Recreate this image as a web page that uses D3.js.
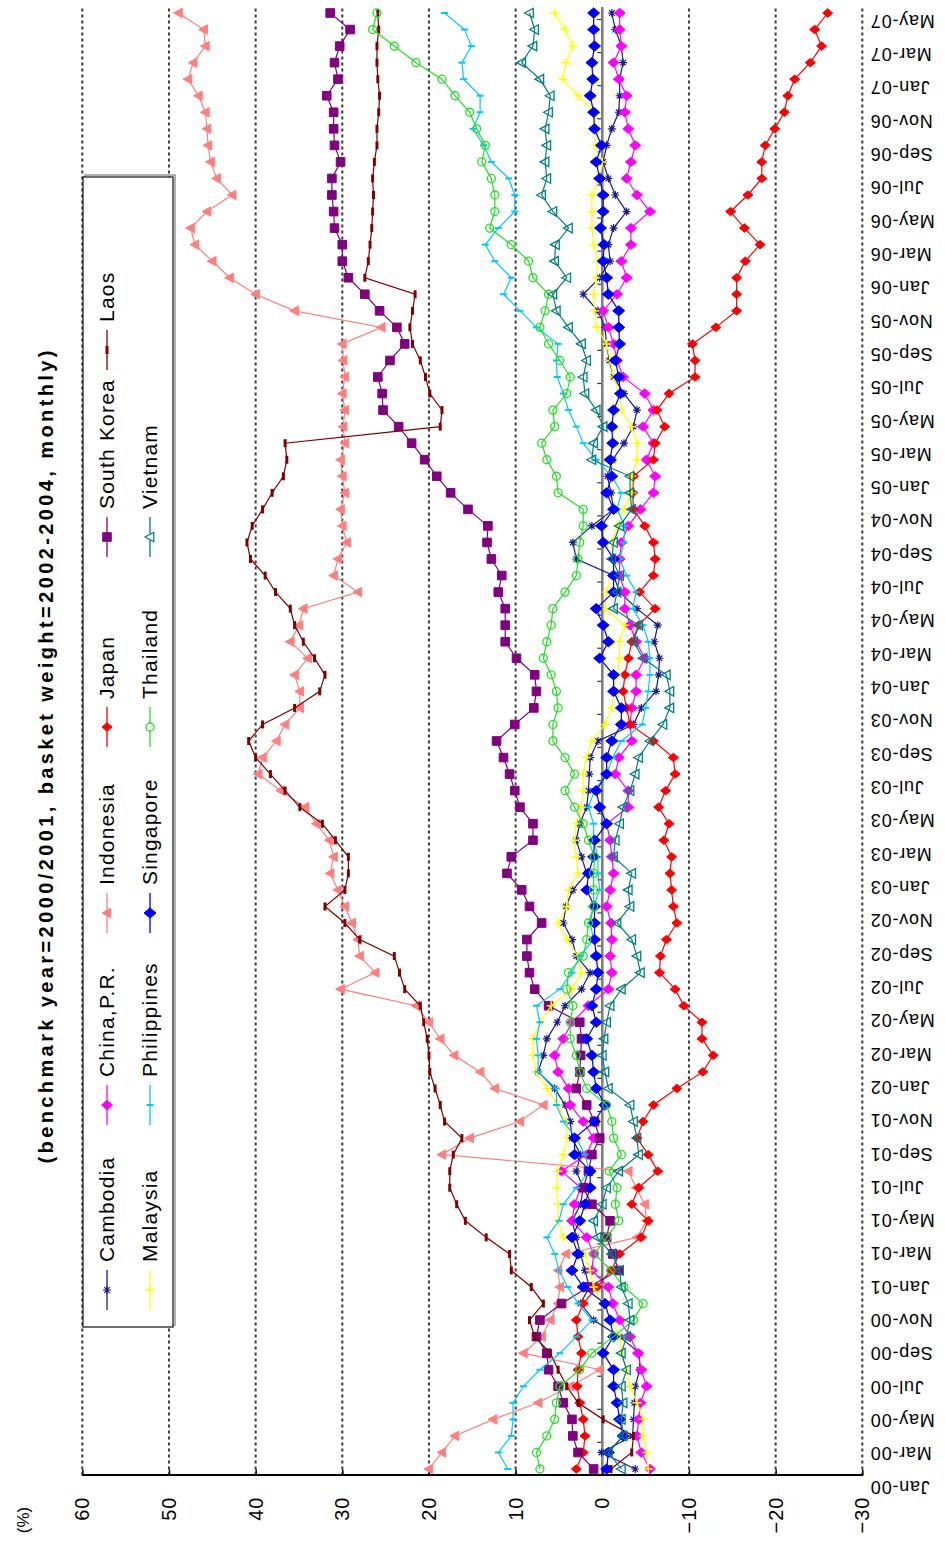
<!DOCTYPE html>
<html>
<head>
<meta charset="utf-8">
<script src="https://cdn.jsdelivr.net/npm/d3@7"></script>
<style>
  body { margin: 0; background: #fff; }
  svg { display: block; }
  text { font-family: "Liberation Sans", Arial, sans-serif; fill: #000; }
</style>
</head>
<body>
<svg id="chart" width="945" height="1546"></svg>
<script>
// Month tick labels (every second month)
const tickLabels = [
  "Jan-00","Mar-00","May-00","Jul-00","Sep-00","Nov-00",
  "Jan-01","Mar-01","May-01","Jul-01","Sep-01","Nov-01",
  "Jan-02","Mar-02","May-02","Jul-02","Sep-02","Nov-02",
  "Jan-03","Mar-03","May-03","Jul-03","Sep-03","Nov-03",
  "Jan-04","Mar-04","May-04","Jul-04","Sep-04","Nov-04",
  "Jan-05","Mar-05","May-05","Jul-05","Sep-05","Nov-05",
  "Jan-06","Mar-06","May-06","Jul-06","Sep-06","Nov-06",
  "Jan-07","Mar-07","May-07"
];
const valueTicks = [60, 50, 40, 30, 20, 10, 0, -10, -20, -30];

// Monthly deviation (%), Jan-00 .. May-07
const cambodia = [
  -3.8, 0.1, -3.5, -3.6, -3.7, -3.8, -4.3, -4.3, -2.0, 1.0,
  2.5, 1.5, 2.0, 2.5, 3.0, 3.5, 2.5, 2.2, 3.0, 2.5,
  3.5, 3.7, 4.3, 5.5, 7.4, 6.8, 6.4, 5.2, 4.3, 2.4,
  1.4, 3.0, 3.5, 4.5, 4.2, 3.4, 1.8, 2.4, 3.0, 2.6,
  1.8, 1.6, 1.5, 1.4, 0.5, -3.6, -4.5, -6.2, -6.5, -6.6,
  -6.0, -6.4, -4.0, -2.0, -1.3, 3.0, 3.4, 1.2, -1.3, -1.0,
  -0.6, -1.2, -2.5, -3.6, -4.0, -2.5, -1.3, -0.8, -0.5, -0.3,
  0.5, 2.2, 0.3, -0.9, -0.7, -1.3, -2.8, -1.5, -0.7, -0.1,
  -0.5, -1.1, -1.9, -2.0, -2.0, -2.4, -2.2, -1.5, -1.1
];
const china = [
  -5.5, -4.5, -4.0, -4.2, -4.4, -5.1, -4.5, -4.1, -3.2, -2.0,
  -1.2, -0.7, 1.2, 1.0, 1.8, 3.5, 3.2, 2.5, 4.7, 1.8,
  1.0, 2.2, 3.7, 3.9, 5.1, 5.5, 4.5, 3.5, 1.6, -0.7,
  -1.1, -0.9, -1.1, -1.0, -0.5, -0.9, -1.3, -1.1, -0.9, -0.5,
  -3.0, -3.0, -1.5, -1.9, -3.4, -3.2, -3.4, -3.9, -3.9, -4.9,
  -3.9, -3.2, -2.6, -2.6, -2.0, -2.0, -2.2, -3.0, -4.4, -5.9,
  -6.1, -5.1, -5.9, -4.7, -5.9, -4.9, -2.4, -1.7, -1.3, -0.7,
  -0.1, -1.7, -2.8, -2.2, -3.3, -3.3, -5.5, -4.0, -2.8, -3.3,
  -3.8, -3.0, -2.6, -2.8, -1.9, -1.3, -2.2, -2.0, -2.0
];
const indonesia = [
  20.0, 18.5, 17.0, 12.6, 7.4, 3.7, 0.3, 9.1, 7.0, 6.0,
  5.1, 4.9, 5.1, 4.2, -4.0, -5.1, -4.9, -3.9, -3.0, 18.5,
  15.3, 9.5, 6.8, 12.4, 14.1, 17.1, 18.7, 20.0, 21.5, 30.2,
  26.2, 28.0, 28.2, 28.9, 29.7, 30.5, 31.4, 31.0, 31.5, 33.0,
  34.3, 37.1, 39.7, 39.2, 37.6, 36.6, 34.9, 34.9, 35.5, 34.0,
  36.0, 35.0, 34.5, 28.2, 31.0, 30.5, 29.5, 30.0, 30.2, 29.7,
  30.0, 30.2, 29.7, 29.9, 29.7, 30.0, 29.7, 29.9, 30.0, 25.5,
  35.5, 40.0, 43.0, 45.0, 47.0, 47.5, 45.6, 42.7, 44.5, 45.2,
  45.5, 45.6, 45.8, 46.6, 47.8, 47.2, 45.8, 46.0, 48.9
];
const japan = [
  3.0, 2.2, 2.0, 2.2, 2.6, 2.9, 2.8, 2.4, 2.8, 3.0,
  2.2, 0.6, -1.0, -2.0, -4.5, -5.3, -3.4, -4.2, -6.4, -5.3,
  -4.0, -4.7, -5.9, -8.6, -11.6, -12.8, -11.5, -11.5, -9.4, -8.4,
  -6.6, -6.7, -7.4, -8.6, -8.2, -8.0, -7.8, -8.0, -7.1, -7.7,
  -6.5, -7.3, -8.4, -8.2, -5.9, -3.2, -2.8, -2.4, -2.6, -3.0,
  -3.4, -4.2, -6.1, -4.3, -5.9, -6.1, -5.9, -4.9, -3.6, -3.5,
  -3.6, -5.9, -6.1, -7.2, -6.3, -7.7, -10.7, -10.7, -10.4, -13.1,
  -15.5, -15.5, -15.5, -16.5, -18.2, -16.4, -14.8, -16.8, -18.4, -18.4,
  -18.8, -19.9, -21.0, -21.4, -22.2, -24.0, -25.3, -24.5, -26.0
];
const southKorea = [
  1.0, 2.8, 3.4, 3.5, 4.5, 5.1, 6.2, 6.4, 7.6, 7.2,
  4.7, 1.6, -1.9, -1.2, -0.5, -0.9, 1.2, 2.2, 1.6, 1.2,
  0.3, 0.9, 1.8, 3.0, 2.6, 2.5, 2.4, 2.6, 6.2, 7.8,
  8.4, 8.7, 8.7, 7.0, 8.4, 9.3, 11.0, 10.5, 8.0, 8.0,
  9.5, 10.1, 10.7, 11.4, 12.2, 10.1, 7.9, 7.6, 7.8, 9.9,
  11.2, 11.2, 11.2, 12.0, 11.6, 12.8, 13.3, 13.2, 15.5, 17.5,
  19.1, 20.5, 22.0, 23.5, 25.3, 25.4, 25.9, 24.5, 22.8, 23.7,
  25.7, 27.4, 29.3, 30.0, 30.0, 30.9, 31.0, 31.2, 31.2, 30.2,
  30.9, 31.0, 31.0, 31.8, 30.5, 30.9, 30.3, 29.1, 31.4
];
const laos = [
  -1.0, -3.4, -3.6, -0.1, 2.8, 4.1, 5.1, 6.0, 7.8, 8.4,
  6.8, 8.2, 10.5, 10.7, 13.4, 15.8, 16.8, 17.6, 17.6, 17.2,
  16.2, 18.2, 18.7, 19.3, 19.9, 20.0, 20.2, 20.6, 21.0, 22.8,
  23.4, 24.0, 28.0, 29.7, 32.0, 29.7, 29.3, 29.3, 30.8, 32.3,
  34.9, 36.6, 38.3, 40.0, 40.8, 39.2, 35.5, 32.6, 32.0, 33.2,
  34.5, 35.5, 36.0, 37.7, 38.9, 40.6, 41.0, 40.4, 39.2, 38.1,
  36.8, 36.4, 36.6, 18.7, 18.5, 19.9, 20.4, 21.0, 21.9, 22.2,
  21.9, 21.6, 27.4, 27.0, 26.8, 26.6, 26.5, 26.4, 26.5, 26.3,
  26.0, 26.0, 25.8, 25.7, 25.9, 26.0, 26.0, 25.8, 25.9
];
const malaysia = [
  -5.3, -5.1, -4.7, -4.7, -4.0, -3.2, -2.8, -2.2, -2.0, -1.0,
  0.0, 1.0, 1.4, 2.0, 4.5, 5.1, 5.1, 5.3, 5.1, 4.5,
  4.0, 4.3, 5.1, 6.4, 7.6, 8.0, 8.0, 7.2, 5.9, 3.5,
  2.4, 2.8, 4.1, 5.1, 4.1, 3.9, 2.8, 3.0, 3.2, 3.0,
  2.5, 2.2, 2.2, 1.8, 1.2, -0.3, -1.1, -1.3, -1.7, -2.0,
  -2.0, -2.6, -0.3, -0.5, -1.0, -1.3, -1.1, -1.7, -2.5, -3.4,
  -3.4, -4.0, -4.0, -3.4, -2.2, -2.0, -1.3, -0.9, -0.5, 0.7,
  0.9, 1.0, 0.7, 0.5, 1.0, 1.2, 1.2, 1.2, 0.3, 0.0,
  0.8, 0.7, 1.0, 2.8, 4.6, 4.2, 3.4, 4.3, 5.5
];
const philippines = [
  10.9, 12.0, 10.5, 10.3, 10.3, 9.1, 7.2, 4.9, 3.0, 1.2,
  2.8, 4.0, 5.0, 5.5, 6.4, 5.0, 4.5, 3.0, 1.5, 2.0,
  3.0, 4.5, 5.3, 5.3, 7.4, 7.4, 7.6, 7.2, 7.6, 4.9,
  3.5, 2.6, 1.0, 1.4, 1.0, 0.3, 0.5, 0.5, 1.0, 1.0,
  1.6, 0.9, -0.5, -1.2, -2.2, -4.6, -5.0, -5.3, -5.5, -5.5,
  -5.3, -4.7, -3.5, -3.9, -2.8, -2.0, -2.5, -2.6, -1.7, -2.2,
  -1.1, 0.7, 2.2, 3.0, 3.9, 4.5, 5.2, 5.3, 5.1, 7.6,
  9.5, 11.4, 10.5, 12.4, 13.5, 12.0, 10.1, 10.1, 10.8, 12.8,
  13.7, 14.9, 14.1, 14.1, 16.0, 16.2, 15.1, 15.9, 18.2
];
const singapore = [
  -0.5, -0.7, -2.4, -2.0, -1.7, -1.3, -1.3, -0.1, -1.3, -0.9,
  -0.3, 2.2, 3.5, 2.8, 3.5, 2.6, 2.0, 1.4, 1.4, 3.2,
  3.2, 0.9, -0.3, 0.7, 1.0, 1.2, 1.8, 0.7, 1.2, 0.7,
  0.5, 0.7, 0.9, 0.9, 0.9, 1.8, 1.6, 1.0, 0.9, -0.5,
  0.3, 0.7, -0.5, -0.5, -1.1, -2.2, -2.2, -1.3, -1.3, 0.3,
  -0.7, -0.1, 0.7, -1.3, -1.3, -1.3, -0.1, 0.1, -1.3, -0.5,
  -1.1, -0.9, -1.2, -1.1, -1.3, -2.1, -1.9, -1.5, -2.0, -1.9,
  -1.9, -0.7, -0.5, -0.1, -0.2, 0.2, -0.1, -0.1, 0.3, 0.7,
  0.1, 0.9, 1.0, 1.4, 1.1, 1.2, 0.9, 1.0, 1.0
];
const thailand = [
  7.2, 7.6, 6.4, 5.5, 5.3, 4.9, 2.6, 1.2, -1.3, -3.6,
  -4.7, -2.5, -1.0, 0.9, -0.5, -1.9, -1.5, -1.7, -0.8, -2.2,
  -1.3, -1.1, -0.5, 1.8, 2.6, 3.0, 3.7, 3.7, 3.4, 4.1,
  3.9, 2.2, 1.8, 1.6, 1.0, 1.0, 1.0, 0.9, 1.6, 2.2,
  3.2, 4.3, 3.2, 4.3, 5.7, 5.7, 5.1, 5.3, 5.9, 6.8,
  6.4, 5.9, 5.7, 4.3, 3.0, 2.8, 2.6, 2.2, 2.2, 5.1,
  5.3, 6.4, 7.0, 5.5, 5.7, 4.1, 3.7, 4.9, 6.2, 7.2,
  6.6, 6.2, 8.0, 8.5, 10.5, 13.0, 12.4, 12.4, 12.8, 13.9,
  13.5, 14.5, 15.3, 17.0, 18.5, 21.5, 24.0, 26.5, 26.0
];
const vietnam = [
  -2.2, -0.7, -2.4, -2.2, -2.4, -2.2, -2.8, -2.2, -2.8, -3.2,
  -3.0, -2.2, -2.0, -1.1, 0.6, 1.0, 0.0, -0.5, -1.9, -4.2,
  -4.0, -3.6, -3.2, -0.7, -0.3, 0.0, -0.2, -0.5, -0.9, -2.2,
  -4.4, -4.0, -3.4, -1.7, -3.2, -3.0, -3.4, -1.3, -1.5, -2.0,
  -2.4, -3.2, -3.8, -4.2, -5.5, -7.0, -7.8, -7.8, -7.4, -4.7,
  -3.6, -4.2, -1.3, -1.7, -2.0, -1.1, -1.3, -2.0, -3.4, -3.2,
  -3.2, 1.2, 1.0, -0.1, 0.7, 2.0, 2.2, 1.8, 2.4, 3.9,
  5.3, 5.7, 4.1, 5.5, 5.4, 3.9, 5.7, 7.0, 6.4, 6.6,
  6.4, 6.6, 6.2, 6.0, 7.2, 9.3, 8.0, 7.8, 8.4
];

// Marker shapes, drawn in the chart's own (unrotated) frame
const shapes = {
  asterisk: r => `M${-r},0H${r}M0,${-r}V${r}M${-r*0.7},${-r*0.7}L${r*0.7},${r*0.7}M${-r*0.7},${r*0.7}L${r*0.7},${-r*0.7}`,
  diamond: r => `M0,${-r}L${r*0.85},0L0,${r}L${-r*0.85},0Z`,
  triangle: r => `M0,${-r}L${r*0.95},${r*0.75}L${-r*0.95},${r*0.75}Z`,
  square: r => `M${-r},${-r}H${r}V${r}H${-r}Z`,
  dash: r => `M${-r},0H${r}`,
  bar: r => `M0,${-r}V${r}`,
  plus: r => `M${-r},0H${r}M0,${-r}V${r}`,
  circle: r => `M${-r},0A${r},${r} 0 1,0 ${r},0A${r},${r} 0 1,0 ${-r},0Z`
};

const series = [
  { name: "Cambodia",    values: cambodia,    color: "#1a1a8f", shape: "asterisk", r: 4,   fill: false, mw: 1.2 },
  { name: "China,P.R.",  values: china,       color: "#ff00ff", shape: "diamond",  r: 5.5, fill: true,  mw: 1 },
  { name: "Indonesia",   values: indonesia,   color: "#ff7f7f", shape: "triangle", r: 5,   fill: true,  mw: 1 },
  { name: "Japan",       values: japan,       color: "#ff0000", shape: "diamond",  r: 5,   fill: true,  mw: 1 },
  { name: "South Korea", values: southKorea,  color: "#800080", shape: "square",   r: 4.3, fill: true,  mw: 1 },
  { name: "Laos",        values: laos,        color: "#800000", shape: "dash",     r: 4,   fill: false, mw: 3 },
  { name: "Malaysia",    values: malaysia,    color: "#ffff00", shape: "plus",     r: 4.5, fill: false, mw: 1.5 },
  { name: "Philippines", values: philippines, color: "#00c8ff", shape: "bar",      r: 3.5, fill: false, mw: 2 },
  { name: "Singapore",   values: singapore,   color: "#0000ff", shape: "diamond",  r: 6,   fill: true,  mw: 1 },
  { name: "Thailand",    values: thailand,    color: "#22e022", shape: "circle",   r: 4,   fill: false, mw: 1.3 },
  { name: "Vietnam",     values: vietnam,     color: "#008080", shape: "triangle", r: 5,   fill: false, mw: 1.3 }
];

const W = 1546, H = 945;   // frame before rotation: time runs along W
const svg = d3.select("#chart");
const g = svg.append("g").attr("transform", `translate(0,${W}) rotate(-90)`);

const nMonths = cambodia.length;
const x = d3.scaleLinear().domain([0, nMonths - 1]).range([77, 1533]);
const y = d3.scaleLinear().domain([60, -30]).range([82.3, 862.3]);
const labelPos = d3.scalePoint().domain(tickLabels).range([59, 1525]);
const plotLeft = 70.5, plotRight = 1539;
const tickShift = -6.5;

// dotted grid lines
g.append("g").selectAll("line")
  .data(valueTicks.filter(v => v !== 0))
  .join("line")
  .attr("x1", plotLeft).attr("x2", plotRight)
  .attr("y1", d => y(d)).attr("y2", d => y(d))
  .attr("stroke", "#3a3a3a").attr("stroke-width", 2)
  .attr("stroke-dasharray", "3,3");

// zero line with month ticks
g.append("line")
  .attr("x1", plotLeft).attr("x2", plotRight)
  .attr("y1", y(0)).attr("y2", y(0))
  .attr("stroke", "#808080").attr("stroke-width", 2.6);
g.append("g").selectAll("line")
  .data(tickLabels.map((d, k) => k * 2))
  .join("line")
  .attr("x1", d => x(d) + tickShift).attr("x2", d => x(d) + tickShift)
  .attr("y1", y(0) - 1).attr("y2", y(0) - 5)
  .attr("stroke", "#333").attr("stroke-width", 1.2);

// value axis
const yAxis = d3.axisLeft(y).tickValues(valueTicks).tickSize(-6).tickSizeOuter(0).tickPadding(21);
const ya = g.append("g").attr("transform", `translate(${plotLeft},0)`).call(yAxis);
ya.select(".domain").attr("stroke", "#000").attr("stroke-width", 2);
ya.selectAll(".tick line").attr("stroke", "#000").attr("stroke-width", 1.5);
ya.selectAll(".tick text")
  .attr("font-size", 20).attr("letter-spacing", 1)
  .attr("font-family", "Liberation Sans, Arial, sans-serif").attr("fill", "#000");

// month labels below the plot
g.append("g").selectAll("text")
  .data(tickLabels)
  .join("text")
  .attr("transform", d => `translate(${labelPos(d)},870) rotate(-90)`)
  .attr("text-anchor", "end")
  .attr("dy", "0.35em")
  .attr("font-size", 18)
  .attr("letter-spacing", 0.8)
  .text(d => d);

// unit label and subtitle
g.append("text").attr("x", 26).attr("y", 23).attr("dy", "0.35em")
  .attr("text-anchor", "middle").attr("font-size", 17).text("(%)");
g.append("text").attr("x", W - 757).attr("y", 46).attr("dy", "0.35em")
  .attr("text-anchor", "middle").attr("font-size", 20).attr("font-weight", "bold")
  .attr("textLength", 813).attr("lengthAdjust", "spacing")
  .text("(benchmark year=2000/2001, basket weight=2002-2004, monthly)");

// series lines and markers
const line = d3.line().x((d, i) => x(i)).y(d => y(d));
series.forEach(s => {
  const sg = g.append("g");
  sg.append("path").attr("d", line(s.values))
    .attr("fill", "none").attr("stroke", s.color).attr("stroke-width", 1.2);
  sg.selectAll("path.m").data(s.values).join("path").attr("class", "m")
    .attr("transform", (d, i) => `translate(${x(i)},${y(d)})`)
    .attr("d", shapes[s.shape](s.r))
    .attr("fill", s.fill ? s.color : (s.shape === "circle" || s.shape === "triangle" ? "#fff" : "none"))
    .attr("fill-opacity", s.fill ? 1 : 0)
    .attr("stroke", s.color).attr("stroke-width", s.mw);
});

// legend
const legendBox = { u0: 219, u1: 1369, v0: 83, v1: 173 };
g.append("rect")
  .attr("x", legendBox.u0 + 2).attr("y", legendBox.v0 + 2)
  .attr("width", legendBox.u1 - legendBox.u0).attr("height", legendBox.v1 - legendBox.v0)
  .attr("fill", "none").attr("stroke", "#999").attr("stroke-width", 1.5);
g.append("rect")
  .attr("x", legendBox.u0).attr("y", legendBox.v0)
  .attr("width", legendBox.u1 - legendBox.u0).attr("height", legendBox.v1 - legendBox.v0)
  .attr("fill", "#fff").attr("stroke", "#222").attr("stroke-width", 1.3);

const legendCols = [256, 441, 633, 819, 1009, 1196];
const legendRows = [107, 150];
series.forEach((s, k) => {
  const row = k < 6 ? 0 : 1;
  const col = k < 6 ? k : k - 6;
  const cu = legendCols[col], cv = legendRows[row];
  const lg = g.append("g");
  lg.append("line").attr("x1", cu - 20).attr("x2", cu + 20).attr("y1", cv).attr("y2", cv)
    .attr("stroke", s.color).attr("stroke-width", 1.3);
  lg.append("path").attr("transform", `translate(${cu},${cv})`)
    .attr("d", shapes[s.shape](s.r))
    .attr("fill", s.fill ? s.color : "#fff").attr("fill-opacity", s.fill ? 1 : (s.shape === "circle" || s.shape === "triangle" ? 1 : 0))
    .attr("stroke", s.color).attr("stroke-width", s.mw);
  lg.append("text").attr("x", cu + 28).attr("y", cv).attr("dy", "0.35em")
    .attr("font-size", 21).attr("letter-spacing", 1.2).text(s.name);
});
</script>
</body>
</html>
